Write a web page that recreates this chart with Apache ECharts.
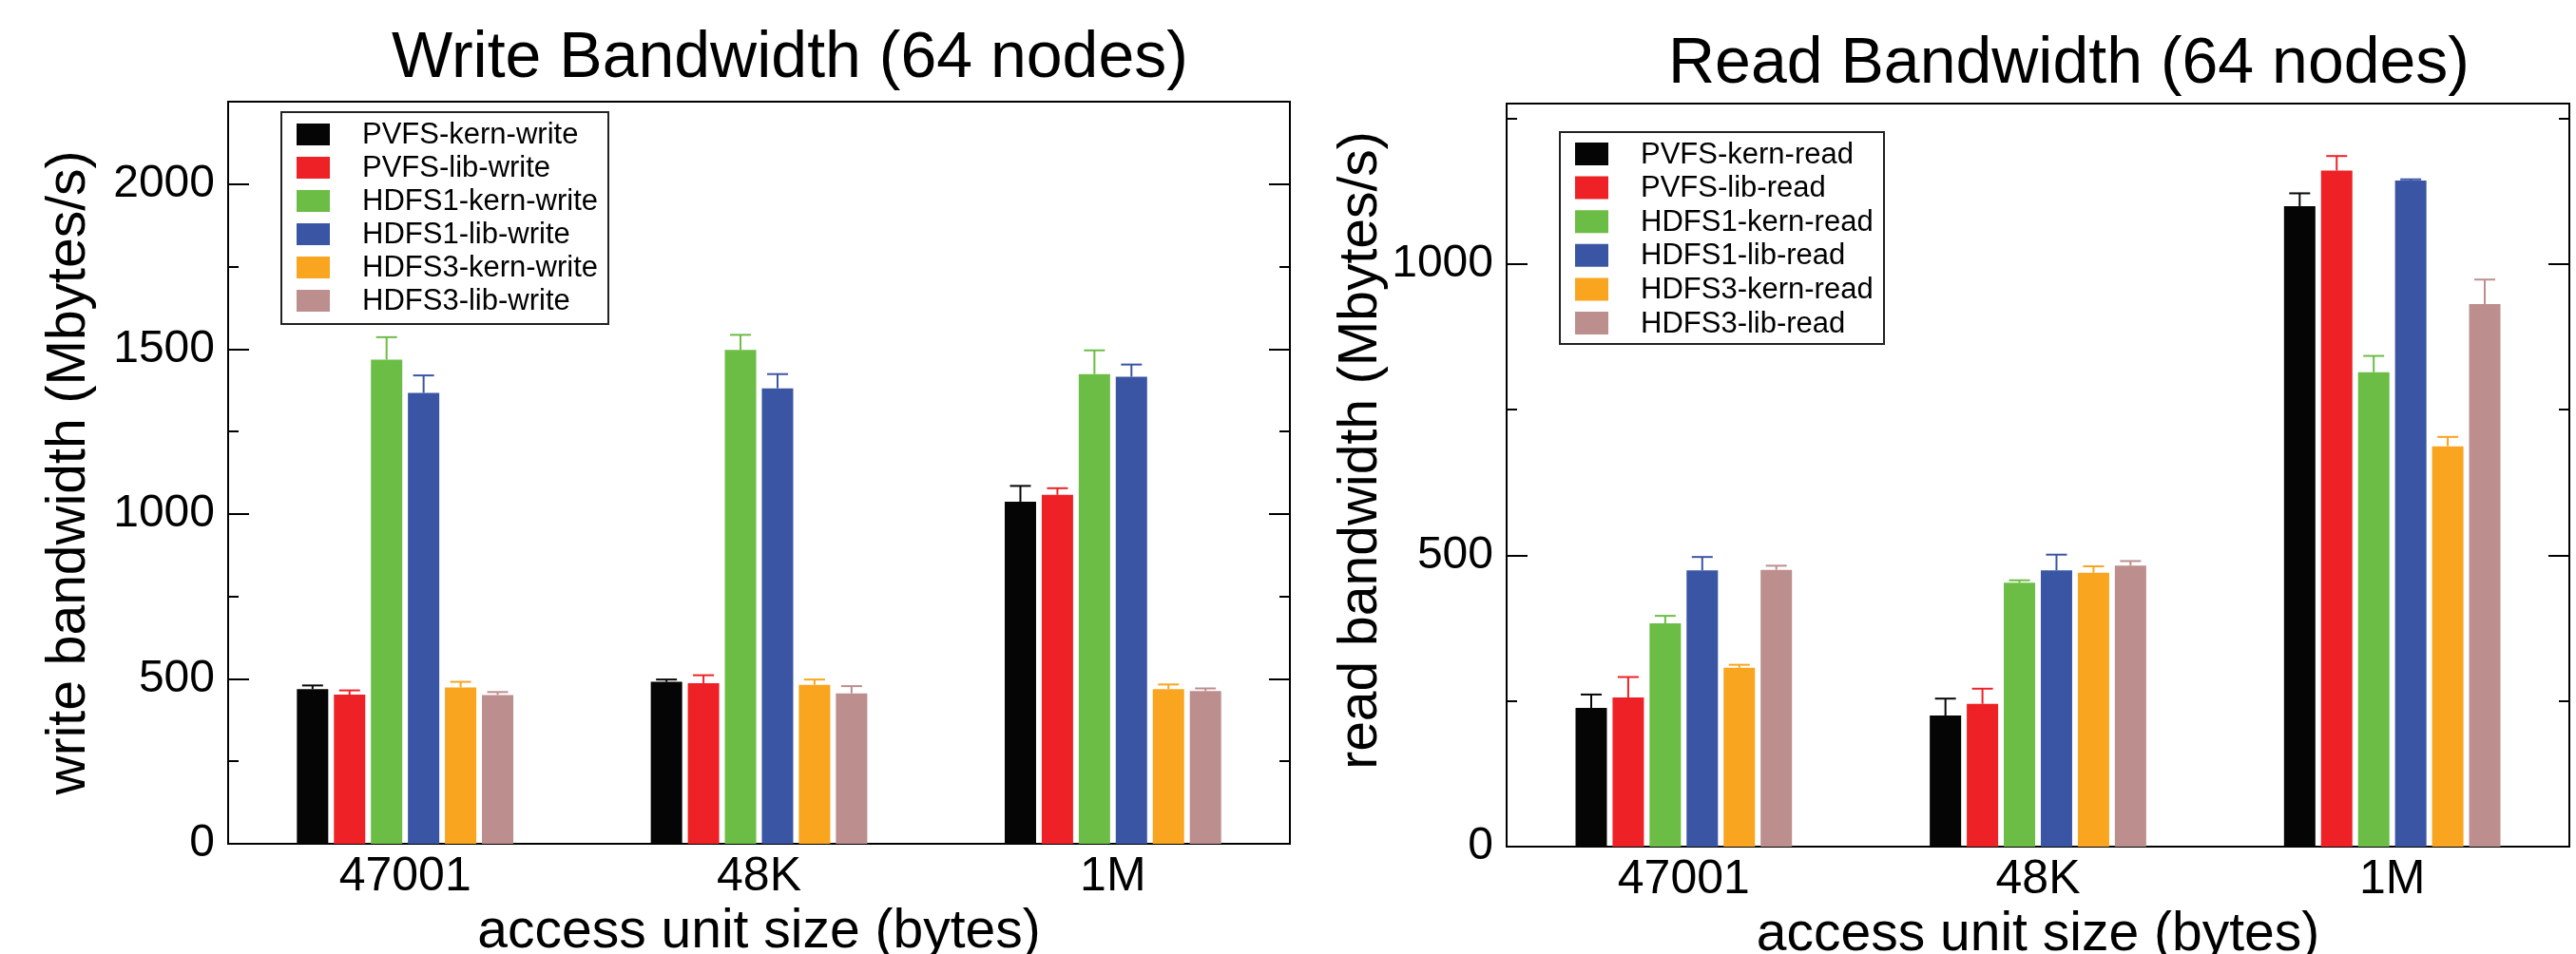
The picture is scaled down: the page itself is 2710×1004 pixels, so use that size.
<!DOCTYPE html>
<html>
<head>
<meta charset="utf-8">
<script src="https://cdn.jsdelivr.net/npm/echarts@6/dist/echarts.min.js"></script>
<style>
html,body{margin:0;padding:0;background:#fff;}
#chart{width:2710px;height:1004px;}
</style>
</head>
<body>
<div id="chart"></div>
<script>
// ---------------- data ----------------
const categories = ['47001', '48K', '1M'];

const writeNames = ['PVFS-kern-write', 'PVFS-lib-write', 'HDFS1-kern-write', 'HDFS1-lib-write', 'HDFS3-kern-write', 'HDFS3-lib-write'];
const pvfsKernWrite  = [469, 491, 1037];
const pvfsLibWrite   = [452, 487, 1058];
const hdfs1KernWrite = [1468, 1497, 1424];
const hdfs1LibWrite  = [1367, 1381, 1416];
const hdfs3KernWrite = [474, 482, 469];
const hdfs3LibWrite  = [451, 456, 463];
// upper error bar lengths
const pvfsKernWriteErr  = [11, 7, 48];
const pvfsLibWriteErr   = [13, 24, 20];
const hdfs1KernWriteErr = [68, 46, 72];
const hdfs1LibWriteErr  = [53, 43, 37];
const hdfs3KernWriteErr = [17, 16, 14];
const hdfs3LibWriteErr  = [9, 22, 8];

const readNames = ['PVFS-kern-read', 'PVFS-lib-read', 'HDFS1-kern-read', 'HDFS1-lib-read', 'HDFS3-kern-read', 'HDFS3-lib-read'];
const pvfsKernRead  = [238, 225, 1099];
const pvfsLibRead   = [256, 245, 1160];
const hdfs1KernRead = [383, 453, 814];
const hdfs1LibRead  = [474, 474, 1143];
const hdfs3KernRead = [307, 470, 687];
const hdfs3LibRead  = [475, 482, 931];
const pvfsKernReadErr  = [23, 29, 22];
const pvfsLibReadErr   = [35, 26, 25];
const hdfs1KernReadErr = [13, 4, 28];
const hdfs1LibReadErr  = [23, 27, 2];
const hdfs3KernReadErr = [5, 11, 16];
const hdfs3LibReadErr  = [7, 8, 42];

const writeTicks = {min: 0, max: 2250, major: 500, minor: 250};
const readTicks  = {min: 0, max: 1275, major: 500, minor: 250};

// ---------------- styles ----------------
const colors = ['#050505', '#ee2226', '#6cbd45', '#3a55a4', '#f9a51f', '#bd8e8e'];
const FONT = '"Liberation Sans", Arial, Helvetica, sans-serif';
const BAR_W = 33;
const GAP_RATIO = 0.18;
const CAP_HALF = 11;

const writeVals = [pvfsKernWrite, pvfsLibWrite, hdfs1KernWrite, hdfs1LibWrite, hdfs3KernWrite, hdfs3LibWrite];
const writeErrs = [pvfsKernWriteErr, pvfsLibWriteErr, hdfs1KernWriteErr, hdfs1LibWriteErr, hdfs3KernWriteErr, hdfs3LibWriteErr];
const readVals = [pvfsKernRead, pvfsLibRead, hdfs1KernRead, hdfs1LibRead, hdfs3KernRead, hdfs3LibRead];
const readErrs = [pvfsKernReadErr, pvfsLibReadErr, hdfs1KernReadErr, hdfs1LibReadErr, hdfs3KernReadErr, hdfs3LibReadErr];

function yAxesFor(gridIndex, ticks, name, namePadding, nameGap) {
  const base = {
    type: 'value', gridIndex: gridIndex, min: ticks.min, max: ticks.max,
    splitLine: {show: false}, axisLine: {show: false}
  };
  return [
    Object.assign({}, base, {
      position: 'left', interval: ticks.major,
      axisTick: {show: true, inside: true, length: 22, lineStyle: {color: '#000', width: 2}},
      axisLabel: {show: true, fontSize: 48, fontFamily: FONT, color: '#000', margin: 14, showMaxLabel: false,
                  formatter: function (v) { return String(v); }},
      name: name, nameLocation: 'middle', nameGap: nameGap, nameRotate: 90,
      nameTextStyle: {fontSize: 57, fontFamily: FONT, color: '#000', padding: namePadding}
    }),
    Object.assign({}, base, {
      position: 'left', interval: ticks.minor,
      axisTick: {show: true, inside: true, length: 11, lineStyle: {color: '#000', width: 2}},
      axisLabel: {show: false}
    }),
    Object.assign({}, base, {
      position: 'right', interval: ticks.major,
      axisTick: {show: true, inside: true, length: 22, lineStyle: {color: '#000', width: 2}},
      axisLabel: {show: false}
    }),
    Object.assign({}, base, {
      position: 'right', interval: ticks.minor,
      axisTick: {show: true, inside: true, length: 11, lineStyle: {color: '#000', width: 2}},
      axisLabel: {show: false}
    })
  ];
}

function xAxisFor(gridIndex) {
  return {
    type: 'category', gridIndex: gridIndex, data: categories,
    axisTick: {show: false},
    axisLine: {show: true, lineStyle: {color: '#000', width: 2}},
    axisLabel: {fontSize: 50, fontFamily: FONT, color: '#000', margin: 10},
    name: 'access unit size (bytes)', nameLocation: 'middle', nameGap: 60,
    nameTextStyle: {fontSize: 57, fontFamily: FONT, color: '#000'}
  };
}

function seriesFor(names, vals, errs, xIdx, yIdx) {
  const out = [];
  const n = names.length;
  names.forEach(function (nm, i) {
    out.push({
      type: 'bar', name: nm, xAxisIndex: xIdx, yAxisIndex: yIdx,
      data: vals[i], barWidth: BAR_W, barGap: (GAP_RATIO * 100) + '%',
      itemStyle: {color: colors[i]},
      emphasis: {disabled: true}, animation: false
    });
  });
  names.forEach(function (nm, i) {
    const data = vals[i].map(function (v, k) { return [k, v, v + errs[i][k]]; });
    const offset = (i - (n - 1) / 2) * (BAR_W * (1 + GAP_RATIO));
    out.push({
      type: 'custom', name: nm + '-err', xAxisIndex: xIdx, yAxisIndex: yIdx,
      data: data, encode: {x: 0, y: 1}, z: 5, silent: true, animation: false,
      renderItem: function (params, api) {
        const b = api.coord([api.value(0), api.value(1)]);
        const t = api.coord([api.value(0), api.value(2)]);
        const x = b[0] + offset;
        const st = {stroke: colors[i], lineWidth: 2};
        return {
          type: 'group', children: [
            {type: 'line', shape: {x1: x, y1: b[1], x2: x, y2: t[1]}, style: st},
            {type: 'line', shape: {x1: x - CAP_HALF, y1: t[1], x2: x + CAP_HALF, y2: t[1]}, style: st}
          ]
        };
      }
    });
  });
  return out;
}

// legend box: framed, swatch + label per series
function legendGraphic(names, box) {
  const els = [{
    type: 'rect', z: 50, silent: true,
    shape: {x: box.x, y: box.y, width: box.w, height: box.h},
    style: {fill: '#fff', stroke: '#222', lineWidth: 2}
  }];
  names.forEach(function (nm, i) {
    const sy = box.y + box.padTop + i * box.pitch;
    els.push({
      type: 'rect', z: 51, silent: true,
      shape: {x: box.x + box.padLeft, y: sy, width: box.sw, height: box.sh},
      style: {fill: colors[i]}
    });
    els.push({
      type: 'text', z: 51, silent: true,
      style: {
        text: nm, x: box.x + box.textLeft, y: sy + box.sh / 2 + 1,
        fill: '#000', fontSize: 31, fontFamily: FONT, align: 'left', verticalAlign: 'middle'
      }
    });
  });
  return els;
}

const chart = echarts.init(document.getElementById('chart'), null, {renderer: 'canvas'});
chart.setOption({
  animation: false,
  backgroundColor: '#fff',
  title: [
    {text: 'Write Bandwidth (64 nodes)', left: 412, top: 28, padding: 0,
     textStyle: {fontSize: 68, fontWeight: 'normal', fontFamily: FONT, color: '#000'}},
    {text: 'Read Bandwidth (64 nodes)', left: 1755, top: 34, padding: 0,
     textStyle: {fontSize: 68, fontWeight: 'normal', fontFamily: FONT, color: '#000'}}
  ],
  grid: [
    {left: 240, top: 107, width: 1117, height: 781, show: true, borderColor: '#000', borderWidth: 2,
     backgroundColor: 'transparent', outerBoundsMode: 'none', containLabel: false},
    {left: 1585, top: 109, width: 1118, height: 782, show: true, borderColor: '#000', borderWidth: 2,
     backgroundColor: 'transparent', outerBoundsMode: 'none', containLabel: false}
  ],
  xAxis: [xAxisFor(0), xAxisFor(1)],
  yAxis: yAxesFor(0, writeTicks, 'write bandwidth (Mbytes/s)', [0, 0, 0, 0], 138)
    .concat(yAxesFor(1, readTicks, 'read bandwidth (Mbytes/s)', [0, 0, 0, 52], 84)),
  series: seriesFor(writeNames, writeVals, writeErrs, 0, 0)
    .concat(seriesFor(readNames, readVals, readErrs, 1, 4)),
  graphic: legendGraphic(writeNames, {x: 296, y: 118, w: 344, h: 223, padTop: 12, padLeft: 16, textLeft: 85, pitch: 35, sw: 35, sh: 23})
    .concat(legendGraphic(readNames, {x: 1641, y: 139, w: 341, h: 223, padTop: 11, padLeft: 16, textLeft: 85, pitch: 35.6, sw: 35, sh: 24}))
});
</script>
</body>
</html>
